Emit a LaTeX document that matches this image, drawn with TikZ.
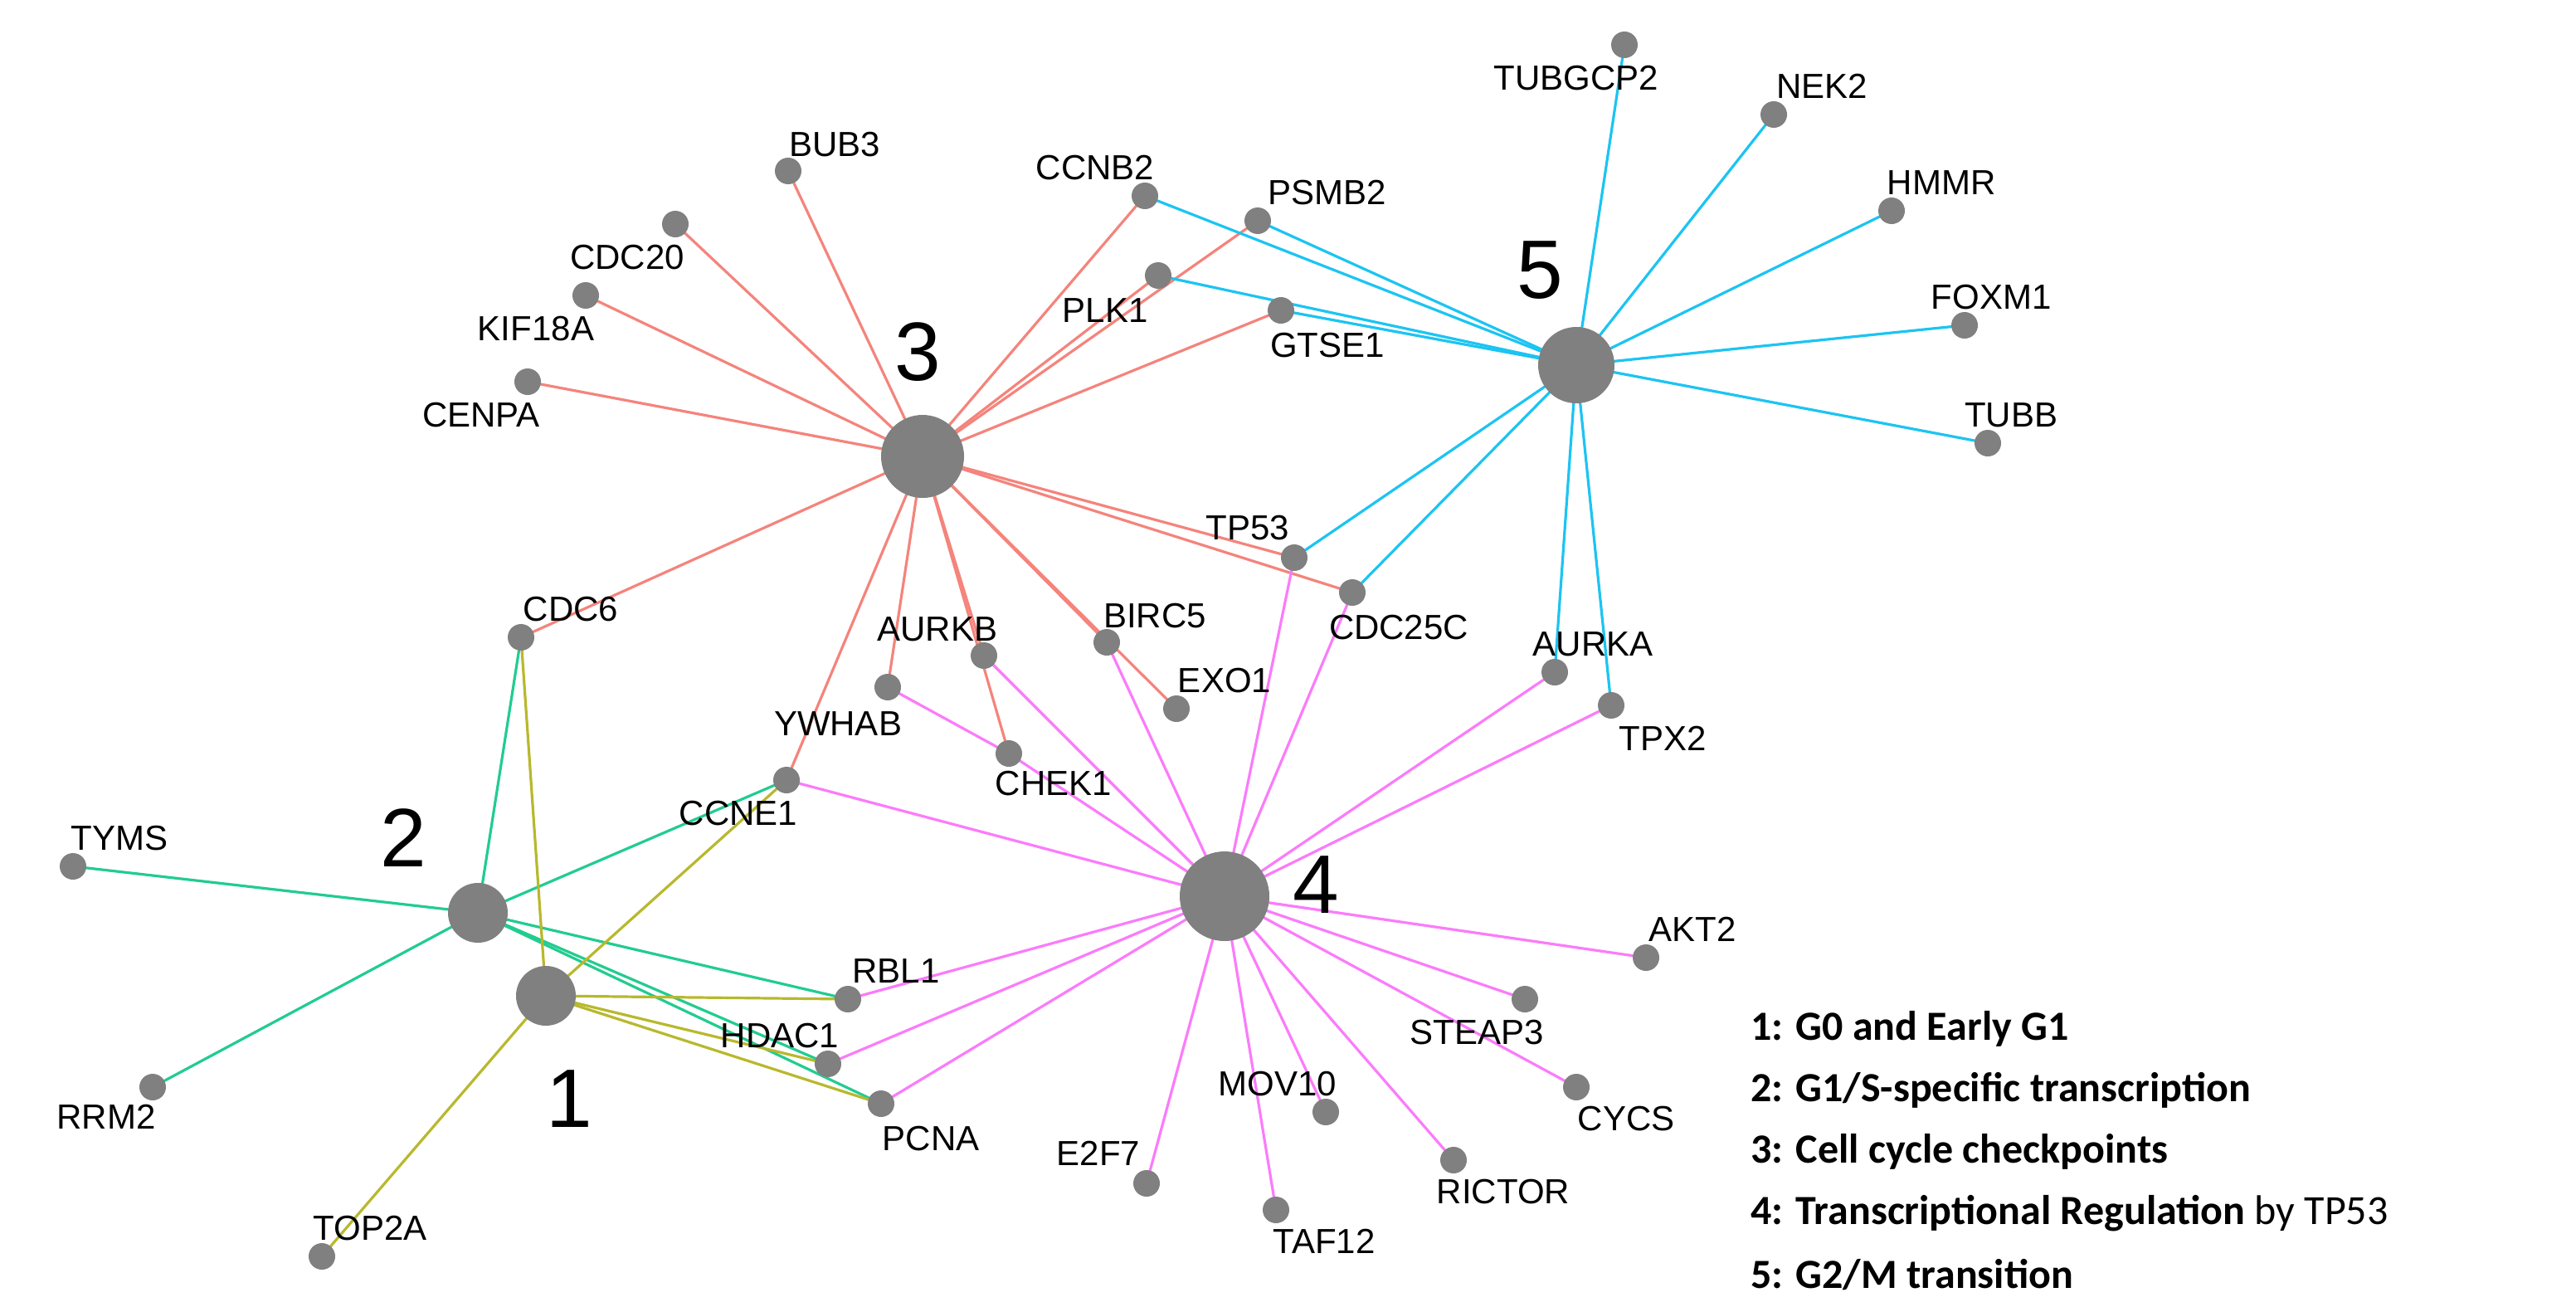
\documentclass[tikz,border=0pt]{standalone}
\usepackage{fontspec}
\setmainfont{Liberation Sans}
\newfontfamily\lgfont{Carlito}
\begin{document}
\begin{tikzpicture}[x=1pt,y=-1pt,
 g/.style={circle,fill=black!50,inner sep=0,minimum size=16pt},
 hub/.style={circle,fill=black!50,inner sep=0},
 lb/.style={font=\fontsize{21}{21}\selectfont,inner sep=0},
 hl/.style={font=\fontsize{50}{50}\selectfont,inner sep=0},
 lg/.style={font=\lgfont\fontsize{25}{25}\selectfont\bfseries,anchor=west,inner sep=0},
 e/.style={line width=1.6pt}]
\definecolor{cred}{HTML}{F4847C}\definecolor{cblu}{HTML}{1CC4F2}
\definecolor{cmag}{HTML}{FB7BFB}\definecolor{cgrn}{HTML}{22CC90}
\definecolor{colv}{HTML}{B8B82E}
\useasboundingbox (0,0) rectangle (1552.5,787);
% nodes
\foreach \n/\x/\y in {BUB3/475/103,CDC20/407/135,KIF18A/353/178,CENPA/318/230,CCNB2/690/118,PSMB2/758/133,PLK1/698/166,GTSE1/772/187,TUBGCP2/979/27,NEK2/1069/69,HMMR/1140/127,FOXM1/1184/196,TUBB/1198/267,TP53/780/336,CDC25C/815/357,AURKA/937/405,TPX2/971/425,CDC6/314/384,YWHAB/535/414,AURKB/593/395,BIRC5/667/387,EXO1/709/427,CHEK1/608/454,CCNE1/474/470,TYMS/44/522,RRM2/92/655,TOP2A/194/757,RBL1/511/602,HDAC1/499/641,PCNA/531/665,AKT2/992/577,STEAP3/919/602,CYCS/950/655,MOV10/799/670,RICTOR/876/699,TAF12/769/729,E2F7/691/713}
 \coordinate (\n) at (\x,\y);
\coordinate (h3) at (556,275);\coordinate (h5) at (950,220);\coordinate (h4) at (738,540);
\coordinate (h2) at (288,550);\coordinate (h1) at (329,600);
% edges
\foreach \t in {BUB3,CDC20,KIF18A,CENPA,CCNB2,PSMB2,PLK1,GTSE1,TP53,CDC25C,CDC6,CCNE1,YWHAB,AURKB,CHEK1,BIRC5,EXO1}
 \draw[e,cred] (h3) -- (\t);
\foreach \t in {TUBGCP2,NEK2,HMMR,FOXM1,TUBB,CCNB2,PSMB2,PLK1,GTSE1,TP53,CDC25C,AURKA,TPX2}
 \draw[e,cblu] (h5) -- (\t);
\foreach \t in {TP53,CDC25C,AURKA,TPX2,BIRC5,AURKB,CHEK1,CCNE1,AKT2,STEAP3,CYCS,RICTOR,MOV10,TAF12,E2F7,PCNA,HDAC1,RBL1}
 \draw[e,cmag] (h4) -- (\t);
\draw[e,cmag] (YWHAB) -- (CHEK1);
\foreach \t in {TYMS,RRM2,CDC6,CCNE1,RBL1,HDAC1,PCNA}
 \draw[e,cgrn] (h2) -- (\t);
\foreach \t in {CDC6,CCNE1,TOP2A,RBL1,HDAC1,PCNA}
 \draw[e,colv] (h1) -- (\t);
\foreach \n in {BUB3,CDC20,KIF18A,CENPA,CCNB2,PSMB2,PLK1,GTSE1,TUBGCP2,NEK2,HMMR,FOXM1,TUBB,TP53,CDC25C,AURKA,TPX2,CDC6,YWHAB,AURKB,BIRC5,EXO1,CHEK1,CCNE1,TYMS,RRM2,TOP2A,RBL1,HDAC1,PCNA,AKT2,STEAP3,CYCS,MOV10,RICTOR,TAF12,E2F7}
 \node[g] (n\n) at (\n) {};
\node[hub,minimum size=50pt] (H3) at (h3) {};
\node[hub,minimum size=46pt] (H5) at (h5) {};
\node[hub,minimum size=54pt] (H4) at (h4) {};
\node[hub,minimum size=36pt] (H2) at (h2) {};
\node[hub,minimum size=36pt] (H1) at (h1) {};
% labels
\foreach \n/\x/\y in {BUB3/503/87,CDC20/378/155,KIF18A/323/198,CENPA/290/250,CCNB2/660/101,PSMB2/800/116,PLK1/666/187,GTSE1/800/208,TUBGCP2/950/47,NEK2/1098/52,HMMR/1170/110,FOXM1/1200/179,TUBB/1212/250,TP53/752/318,CDC25C/843/378,AURKA/960/388,TPX2/1002/445,CDC6/344/367,AURKB/565/379,YWHAB/505/436,BIRC5/696/371,EXO1/738/410,CHEK1/635/472,CCNE1/445/490,TYMS/72/505,RRM2/64/673,TOP2A/223/740,RBL1/540/585,HDAC1/470/624,PCNA/561/686,AKT2/1020/560,STEAP3/890/622,CYCS/980/674,MOV10/770/653,RICTOR/906/718,TAF12/798/748,E2F7/662/695}
 \node[lb] (l\n) at (\x,\y) {\n};
\node[hl] (t3) at (553,212) {3};\node[hl] (t5) at (928,163) {5};
\node[hl] (t4) at (793,533) {4};\node[hl] (t2) at (243,505) {2};
\node[hl] (t1) at (343,662) {1};
\node[lg] (g1) at (1055,620) {1: G0 and Early G1};
\node[lg] (g2) at (1055,657) {2: G1/S-specific transcription};
\node[lg] (g3) at (1055,694) {3: Cell cycle checkpoints};
\node[lg] (g4) at (1055,731) {4: Transcriptional Regulation \mdseries by TP53};
\node[lg] (g5) at (1055,768) {5: G2/M transition};
\end{tikzpicture}
\end{document}
